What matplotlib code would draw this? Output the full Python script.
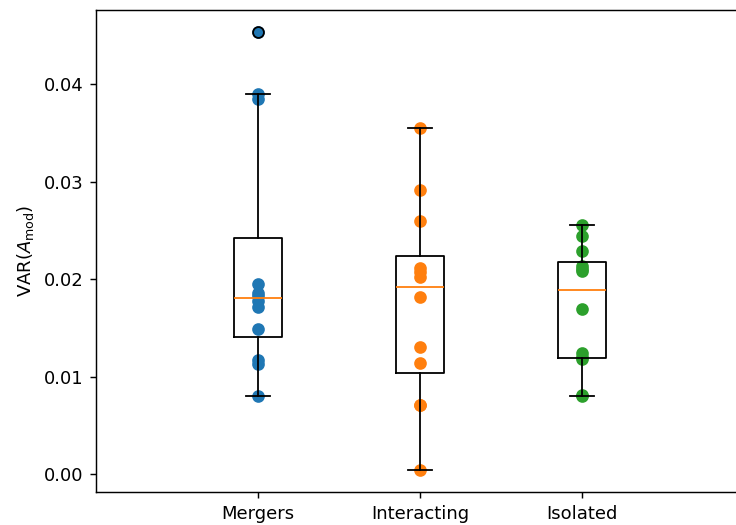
import numpy as np
import matplotlib
matplotlib.use("Agg")
import matplotlib.pyplot as plt

# values
labels = ["Mergers", "Interacting", "Isolated"]
mergers = [0.0080, 0.0113, 0.0117, 0.0149, 0.0172, 0.0178, 0.0183, 0.0186,
           0.0195, 0.0385, 0.0390, 0.0454]
interacting = [0.0004, 0.0071, 0.0071, 0.0114, 0.0130, 0.0182, 0.0202, 0.0207,
               0.0212, 0.0260, 0.0292, 0.0355]
isolated = [0.0080, 0.0081, 0.0118, 0.0120, 0.0124, 0.0169, 0.0208, 0.0211,
            0.0214, 0.0229, 0.0244, 0.0256]

data = [mergers, interacting, isolated]
positions = [1, 2, 3]

dpi = 130
fig = plt.figure(figsize=(736 / dpi, 525 / dpi), dpi=dpi)
ax = fig.add_axes([96 / 736, 1 - 492 / 525, 648 / 736, 482 / 525])

for pos, vals in zip(positions, data):
    ax.scatter(np.full(len(vals), pos), vals)

ax.boxplot(data, positions=positions)
ax.set_xticks(positions)
ax.set_xticklabels(labels)
ax.set_xlim(0, 4)
ax.set_ylabel(r"VAR($A_{\rm mod}$)")

fig.savefig("out.png", dpi=dpi)
